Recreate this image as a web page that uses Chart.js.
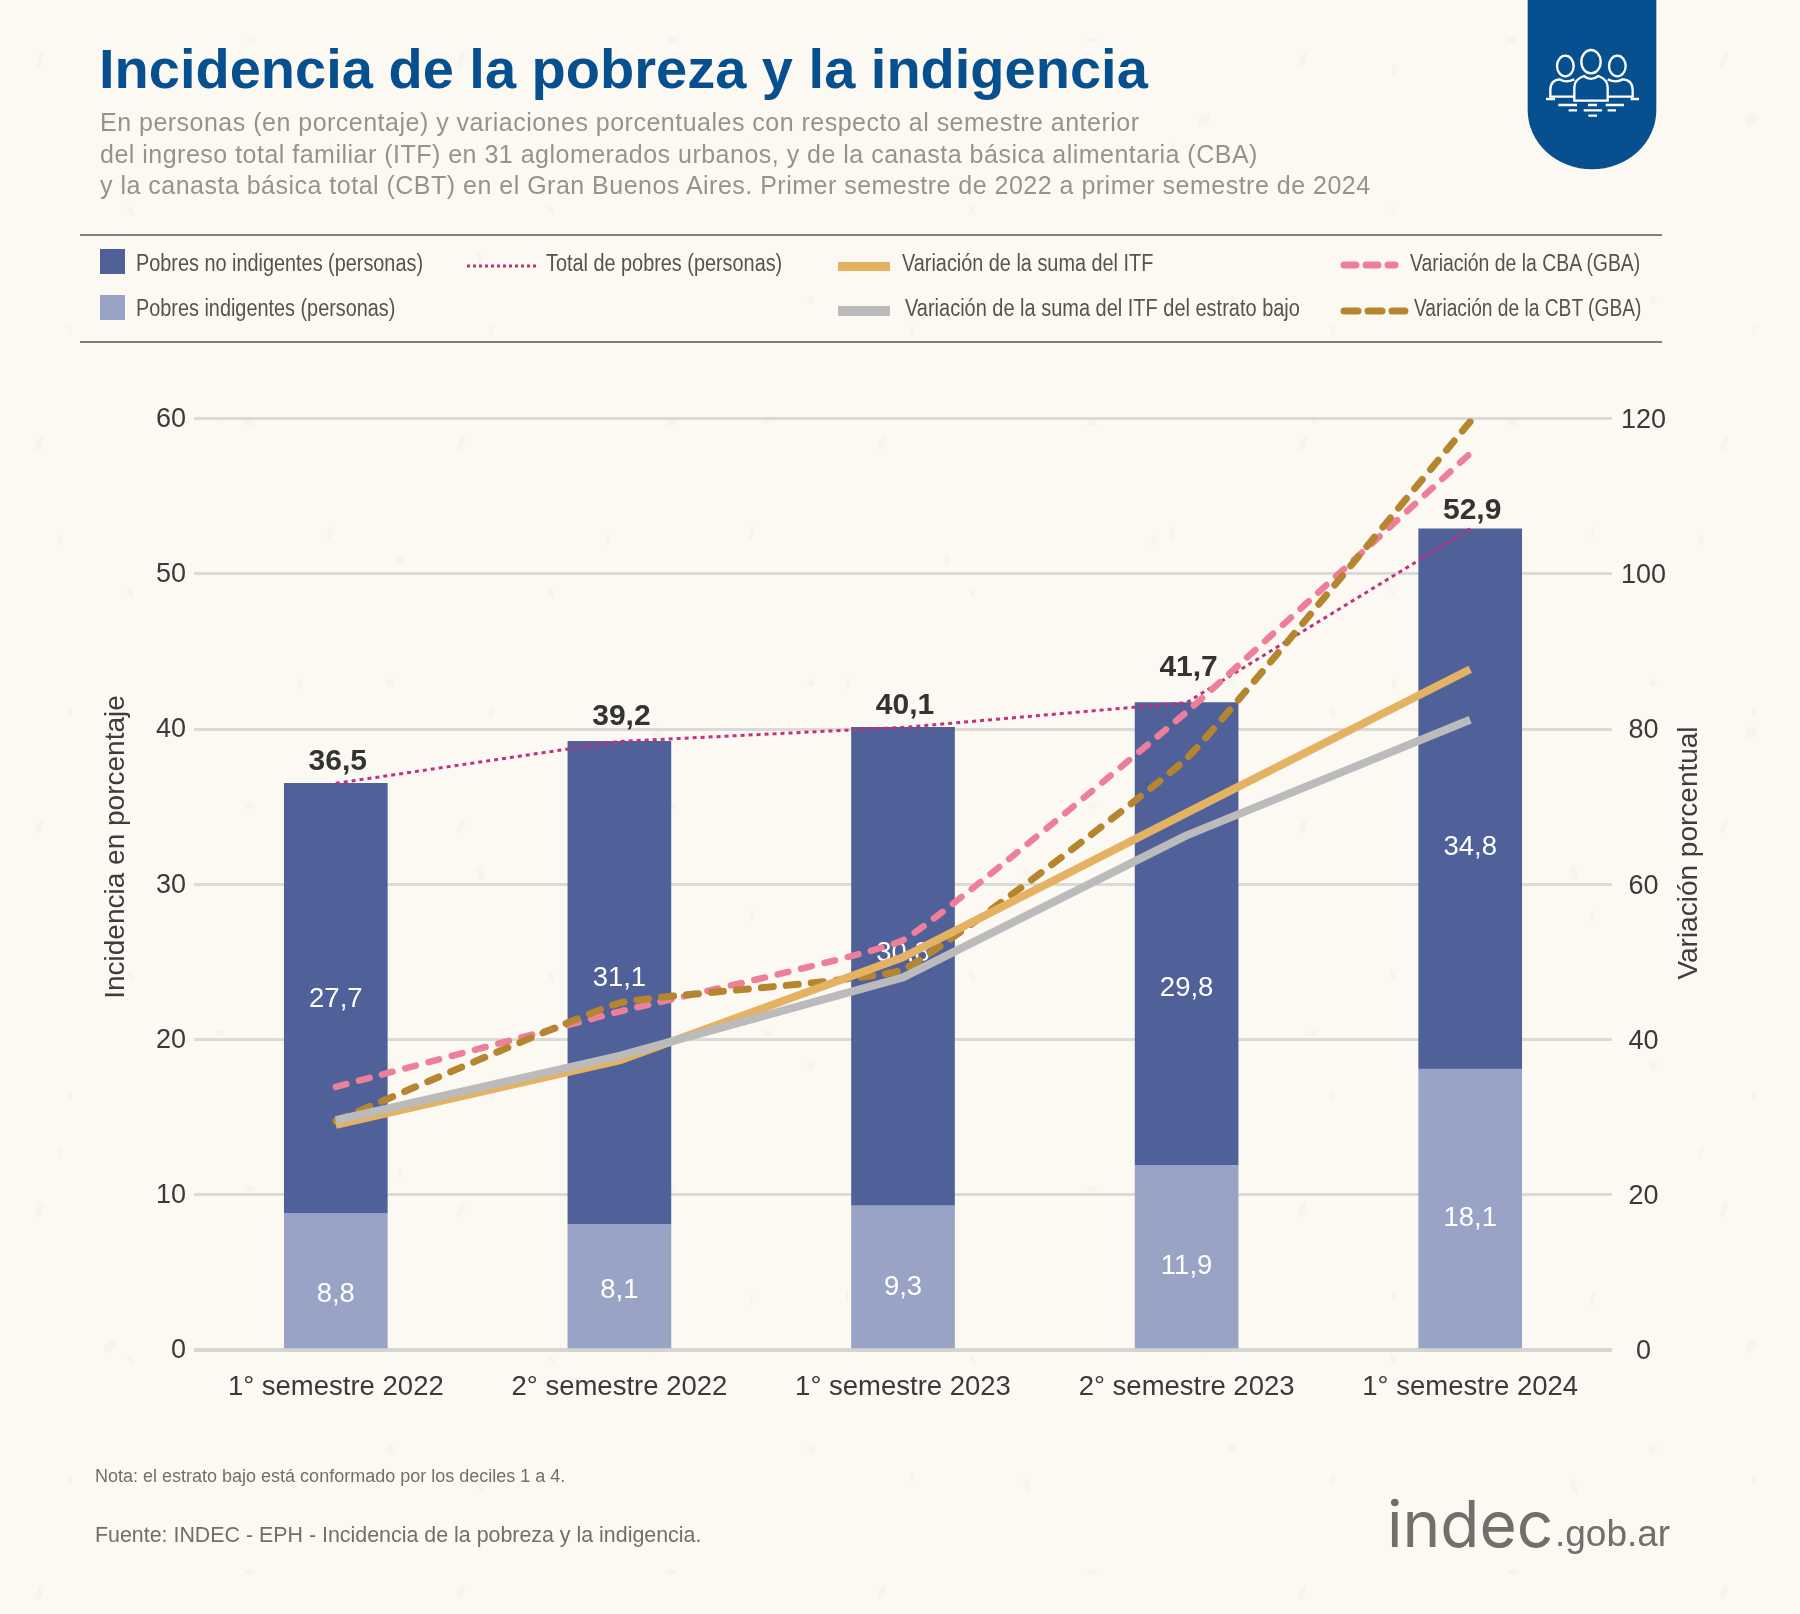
<!DOCTYPE html>
<html lang="es">
<head>
<meta charset="utf-8">
<title>Incidencia de la pobreza y la indigencia</title>
<script src="https://cdn.jsdelivr.net/npm/chart.js@4/dist/chart.umd.min.js"></script>
<style>
    html, body { margin: 0; padding: 0; }
    body {
        width: 1800px; height: 1614px; position: relative; overflow: hidden;
        background-color: #fcf9f3;
        background-image:
            url("data:image/svg+xml,%3Csvg xmlns='http://www.w3.org/2000/svg' width='421' height='383'%3E%3Cg fill='%23f7f4ed'%3E%3Cellipse cx='40' cy='60' rx='3' ry='8' transform='rotate(20 40 60)'/%3E%3Cellipse cx='130' cy='210' rx='2' ry='6' transform='rotate(-30 130 210)'/%3E%3Cellipse cx='250' cy='40' rx='5' ry='3'/%3E%3Cellipse cx='330' cy='150' rx='2' ry='7' transform='rotate(10 330 150)'/%3E%3Cellipse cx='390' cy='300' rx='4' ry='4'/%3E%3Cellipse cx='70' cy='330' rx='2' ry='5'/%3E%3C/g%3E%3C/svg%3E"),
            url("data:image/svg+xml,%3Csvg xmlns='http://www.w3.org/2000/svg' width='547' height='613'%3E%3Cg fill='%23f7f4ed'%3E%3Cellipse cx='110' cy='120' rx='5' ry='7' transform='rotate(40 110 120)'/%3E%3Cellipse cx='300' cy='70' rx='2' ry='6'/%3E%3Cellipse cx='480' cy='260' rx='3' ry='8' transform='rotate(-20 480 260)'/%3E%3Cellipse cx='220' cy='420' rx='4' ry='3'/%3E%3Cellipse cx='60' cy='540' rx='2' ry='7' transform='rotate(15 60 540)'/%3E%3Cellipse cx='400' cy='560' rx='3' ry='5'/%3E%3C/g%3E%3C/svg%3E");
        font-family: "Liberation Sans", Arial, sans-serif;
    }
    canvas { position: absolute; left: 0; top: 0; }
    .abs { position: absolute; white-space: nowrap; }
    #title { left: 99px; top: 34px; font-size: 56px; line-height: 70px; font-weight: bold; color: #07508f; }
    #subtitle { left: 100px; top: 107px; font-size: 25px; line-height: 31.5px; letter-spacing: 0.49px; color: #94948f; }
    .rule { position: absolute; left: 80px; width: 1582px; height: 2px; background: #827f78; }
    .leg { font-size: 23.5px; line-height: 26px; color: #55524f; transform: scaleX(0.845); transform-origin: left center; }
    .box { position: absolute; }
    #nota { left: 95px; top: 1465px; font-size: 18px; line-height: 22px; color: #6f6f6b; }
    #fuente { left: 95px; top: 1522px; font-size: 21.4px; line-height: 26px; color: #6f6f6b; }
    #logo1 { left: 1387px; top: 1479px; font-family: "Inter", sans-serif; font-size: 64px; line-height: 90px; color: #6f6f6b; }
    #logo2 { left: 1555px; top: 1509px; font-size: 37px; line-height: 50px; color: #6f6f6b; }
</style>
</head>
<body>
<canvas id="povertyChart" width="1800" height="1614"></canvas>

<div class="abs" id="title">Incidencia de la pobreza y la indigencia</div>
<div class="abs" id="subtitle">En personas (en porcentaje) y variaciones porcentuales con respecto al semestre anterior<br>del ingreso total familiar (ITF) en 31 aglomerados urbanos, y de la canasta básica alimentaria (CBA)<br>y la canasta básica total (CBT) en el Gran Buenos Aires. Primer semestre de 2022 a primer semestre de 2024</div>

<svg class="abs" style="left:1440px;top:0" width="360" height="200" viewBox="0 0 1080 600">
    <path d="M263 0H649V330A193 178 0 0 1 263 330Z" fill="#07508f"/>
    <g fill="none" stroke="#fff" stroke-width="7">
        <ellipse cx="376" cy="198" rx="25" ry="31"/>
        <ellipse cx="453" cy="185" rx="29" ry="35"/>
        <ellipse cx="532" cy="198" rx="25" ry="31"/>
        <path d="M403 290H331V270Q331 240 360 238Q376 250 403 238"/>
        <path d="M503 238Q530 250 548 238Q578 240 578 270V290H503"/>
        <path d="M403 302V262Q403 238 432 228Q452 245 475 228Q503 238 503 262V302Z"/>
        <path d="M318 297H345M572 297H597M355 315H411M497 315H552M444 315H471M386 331H411M431 331H486M503 331H528M445 347H471"/>
    </g>
</svg>

<div class="rule" style="top:234px"></div>
<div class="rule" style="top:341px"></div>

<div class="box" style="left:100px;top:249px;width:25px;height:25px;background:#4f6198"></div>
<div class="abs leg" style="left:136px;top:250px">Pobres no indigentes (personas)</div>
<div class="box" style="left:100px;top:295px;width:25px;height:25px;background:#98a3c6"></div>
<div class="abs leg" style="left:136px;top:295px">Pobres indigentes (personas)</div>

<svg class="abs" style="left:460px;top:250px" width="90" height="30"><line x1="7" y1="16" x2="76" y2="16" stroke="#c2307f" stroke-width="3" stroke-dasharray="3 3"/></svg>
<div class="abs leg" style="left:546px;top:250px">Total de pobres (personas)</div>

<div class="box" style="left:838px;top:262px;width:52px;height:9px;background:#e3b363"></div>
<div class="abs leg" style="left:902px;top:250px">Variación de la suma del ITF</div>
<div class="box" style="left:838px;top:306px;width:52px;height:10px;background:#bcbbbb"></div>
<div class="abs leg" style="left:905px;top:295px;transform:scaleX(0.85)">Variación de la suma del ITF del estrato bajo</div>

<svg class="abs" style="left:1335px;top:250px" width="80" height="30"><line x1="9" y1="15" x2="60" y2="15" stroke="#ee7f9b" stroke-width="7" stroke-linecap="round" stroke-dasharray="12 10"/></svg>
<div class="abs leg" style="left:1410px;top:250px;transform:scaleX(0.825)">Variación de la CBA (GBA)</div>
<svg class="abs" style="left:1335px;top:296px" width="80" height="30"><line x1="9" y1="15" x2="70" y2="15" stroke="#b5852f" stroke-width="7" stroke-linecap="round" stroke-dasharray="14 10"/></svg>
<div class="abs leg" style="left:1414px;top:295px;transform:scaleX(0.816)">Variación de la CBT (GBA)</div>

<div class="abs" id="nota">Nota: el estrato bajo está conformado por los deciles 1 a 4.</div>
<div class="abs" id="fuente">Fuente: INDEC - EPH - Incidencia de la pobreza y la indigencia.</div>
<div class="abs" id="logo1">indec</div>
<div class="abs" id="logo2">.gob.ar</div>

<script>
document.addEventListener('DOMContentLoaded', () => {
    const categories = ['1° semestre 2022', '2° semestre 2022', '1° semestre 2023', '2° semestre 2023', '1° semestre 2024'];

    // left axis, percent of people
    const pobresIndigentes = [8.8, 8.1, 9.3, 11.9, 18.1];
    const pobresNoIndigentes = [27.7, 31.1, 30.8, 29.8, 34.8];
    const totalPobres = [36.5, 39.2, 40.1, 41.7, 52.9];

    // right axis, percent change
    const variacionItf = [29.0, 37.3, 50.6, 69.2, 87.7];
    const variacionItfBajo = [29.6, 37.9, 48.0, 66.3, 81.2];
    const variacionCba = [33.9, 43.6, 52.8, 82.2, 115.5];
    const variacionCbt = [29.5, 44.7, 49.0, 76.2, 119.6];

    // label placement in the original is hand made, so nudge each one (px)
    const nudgeIndigentes = [14, 4, 11, 10, 10];
    const nudgeNoIndigentes = [1, -4, -13, 54, 49];
    const liftTotal = [22, 25, 22, 35, 18];

    const fmt = v => v.toFixed(1).replace('.', ',');

    function drawAxisTitle(ctx, text, x, y) {
        ctx.save();
        ctx.font = '28px "Liberation Sans"';
        ctx.fillStyle = '#3d3d3d';
        ctx.textAlign = 'center';
        ctx.textBaseline = 'middle';
        ctx.translate(x, y);
        ctx.rotate(-Math.PI / 2);
        ctx.fillText(text, 0, 0);
        ctx.restore();
    }

    const barLabels = {
        id: 'barLabels',
        // drawn per dataset so the lines pass over the white labels
        afterDatasetDraw(chart, args) {
            const ds = chart.data.datasets[args.index];
            if (ds.type !== 'bar') return;
            const ctx = chart.ctx;
            const nudge = args.index === 0 ? nudgeIndigentes : nudgeNoIndigentes;
            ctx.save();
            ctx.font = '27.5px "Liberation Sans"';
            ctx.fillStyle = '#ffffff';
            ctx.textAlign = 'center';
            ctx.textBaseline = 'middle';
            args.meta.data.forEach((bar, i) => {
                ctx.fillText(fmt(ds.data[i]), bar.x, (bar.y + bar.base) / 2 + nudge[i]);
            });
            ctx.restore();
        },
        afterDatasetsDraw(chart) {
            const ctx = chart.ctx;
            const top = chart.getDatasetMeta(1).data;
            ctx.save();
            ctx.font = 'bold 30px "Liberation Sans"';
            ctx.fillStyle = '#333333';
            ctx.textAlign = 'center';
            ctx.textBaseline = 'middle';
            top.forEach((bar, i) => {
                ctx.fillText(fmt(totalPobres[i]), bar.x + 2, bar.y - liftTotal[i]);
            });
            ctx.restore();
        },
        // axis titles are not centred on the plot in the original
        afterDraw(chart) {
            drawAxisTitle(chart.ctx, 'Incidencia en porcentaje', 116, 847);
            drawAxisTitle(chart.ctx, 'Variación porcentual', 1689, 853);
        }
    };

    const lineDefaults = { type: 'line', pointRadius: 0, pointHoverRadius: 0, fill: false, yAxisID: 'y2' };

    new Chart(document.getElementById('povertyChart'), {
        type: 'bar',
        data: {
            labels: categories,
            datasets: [
                { type: 'bar', label: 'Pobres indigentes (personas)', data: pobresIndigentes, backgroundColor: '#98a3c6', stack: 'pobres', barThickness: 103, yAxisID: 'y', order: 10 },
                { type: 'bar', label: 'Pobres no indigentes (personas)', data: pobresNoIndigentes, backgroundColor: '#4f6198', stack: 'pobres', barThickness: 103, yAxisID: 'y', order: 11 },
                { ...lineDefaults, label: 'Total de pobres (personas)', data: totalPobres, borderColor: '#c2307f', borderWidth: 3, borderDash: [4, 4], yAxisID: 'y', stack: 'total', order: 5 },
                { ...lineDefaults, label: 'Variación de la CBA (GBA)', data: variacionCba, borderColor: '#ee7f9b', borderWidth: 6.5, borderDash: [11, 13], borderCapStyle: 'round', tension: 0.1, order: 4 },
                { ...lineDefaults, label: 'Variación de la CBT (GBA)', data: variacionCbt, borderColor: '#b5852f', borderWidth: 7, borderDash: [12, 13], borderCapStyle: 'round', tension: 0.1, order: 3 },
                { ...lineDefaults, label: 'Variación de la suma del ITF', data: variacionItf, borderColor: '#e3b363', borderWidth: 8, borderJoinStyle: 'round', order: 2 },
                { ...lineDefaults, label: 'Variación de la suma del ITF del estrato bajo', data: variacionItfBajo, borderColor: '#bcbbbb', borderWidth: 8, borderJoinStyle: 'round', order: 1 }
            ]
        },
        options: {
            responsive: false,
            animation: false,
            devicePixelRatio: 1,
            layout: { padding: { top: 418.5, left: 0, right: 0, bottom: 0 } },
            plugins: { legend: { display: false }, tooltip: { enabled: false }, title: { display: false } },
            scales: {
                x: {
                    stacked: true,
                    afterFit: scale => { scale.height = 264; },
                    grid: { display: false },
                    border: { display: false },
                    ticks: { color: '#3a3a3a', font: { family: 'Liberation Sans', size: 27.5 }, padding: 13, maxRotation: 0 }
                },
                y: {
                    stacked: true,
                    min: 0,
                    max: 60,
                    afterFit: scale => { scale.width = 194; },
                    border: { display: false },
                    grid: {
                        drawTicks: false,
                        color: ctx => ctx.tick.value === 0 ? '#d5d5d1' : '#dcdad6',
                        lineWidth: ctx => ctx.tick.value === 0 ? 4 : 3
                    },
                    ticks: { stepSize: 10, color: '#3a3a3a', font: { family: 'Liberation Sans', size: 27 }, padding: 8, labelOffset: 1 }
                },
                y2: {
                    position: 'right',
                    min: 0,
                    max: 120,
                    afterFit: scale => { scale.width = 188; },
                    border: { display: false },
                    grid: { display: false, drawTicks: false },
                    ticks: { stepSize: 20, color: '#3a3a3a', font: { family: 'Liberation Sans', size: 27 }, padding: 9, crossAlign: 'center', labelOffset: 2 }
                }
            }
        },
        plugins: [barLabels]
    });
});
</script>
</body>
</html>
